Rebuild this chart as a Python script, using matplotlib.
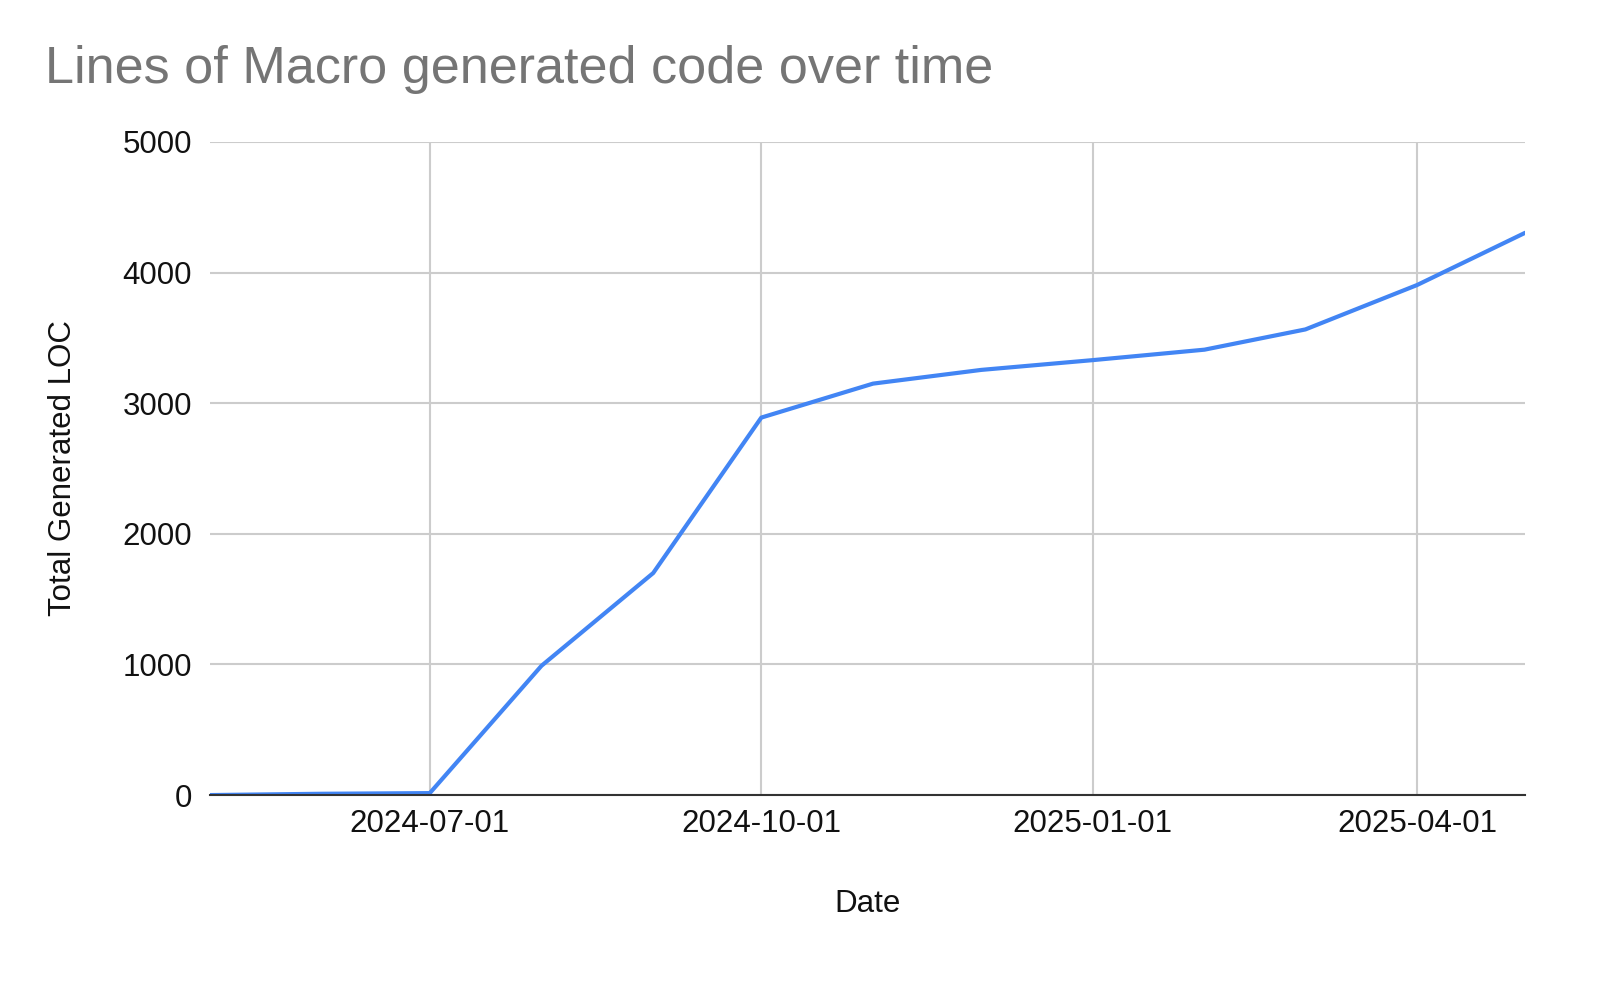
import matplotlib
matplotlib.use("Agg")
import matplotlib.pyplot as plt
import matplotlib.dates as mdates
import numpy as np
from datetime import datetime

plt.rcParams['font.family'] = ['Liberation Sans', 'DejaVu Sans']

# monthly snapshots of total generated lines of code
dates = ["2024-05-01", "2024-06-01", "2024-07-01", "2024-08-01", "2024-09-01",
         "2024-10-01", "2024-11-01", "2024-12-01", "2025-01-01", "2025-02-01",
         "2025-03-01", "2025-04-01", "2025-05-01"]
loc = [0, 10, 15, 990, 1700, 2890, 3150, 3255, 3330, 3410, 3565, 3905, 4305]

tick_dates = ["2024-07-01", "2024-10-01", "2025-01-01", "2025-04-01"]
y_ticks = [0, 1000, 2000, 3000, 4000, 5000]

x = [datetime.strptime(d, "%Y-%m-%d") for d in dates]
xt = [datetime.strptime(d, "%Y-%m-%d") for d in tick_dates]

fig = plt.figure(figsize=(16, 9.84), dpi=100)
ax = fig.add_axes([0.13125, 0.192, 0.822, 0.6637])

ax.plot(x, loc, color="#4285F4", linewidth=3, solid_capstyle="round", zorder=3)

ax.set_xlim(x[0], x[-1])
ax.set_ylim(0, 5000)
ax.set_xticks(xt)
ax.xaxis.set_major_formatter(mdates.DateFormatter("%Y-%m-%d"))
ax.set_yticks(y_ticks)

ax.grid(True, color="#cccccc", linewidth=1.5)
ax.set_axisbelow(True)
for side in ["top", "right", "left"]:
    ax.spines[side].set_visible(False)
ax.spines["bottom"].set_color("#333333")
ax.spines["bottom"].set_linewidth(1.5)
ax.spines["bottom"].set_zorder(4)

ax.tick_params(axis="both", length=0, labelsize=22.5, colors="#111111")
ax.tick_params(axis="x", pad=10)
ax.tick_params(axis="y", pad=13)

ax.set_xlabel("Date", fontsize=22.5, color="#111111", labelpad=36)
ax.set_ylabel("Total Generated LOC", fontsize=22.5, color="#111111", labelpad=32)

fig.text(0.028, 0.929, "Lines of Macro generated code over time",
         fontsize=37.5, color="#757575", ha="left", va="center")

fig.savefig("out.png", dpi=100, facecolor="white")
